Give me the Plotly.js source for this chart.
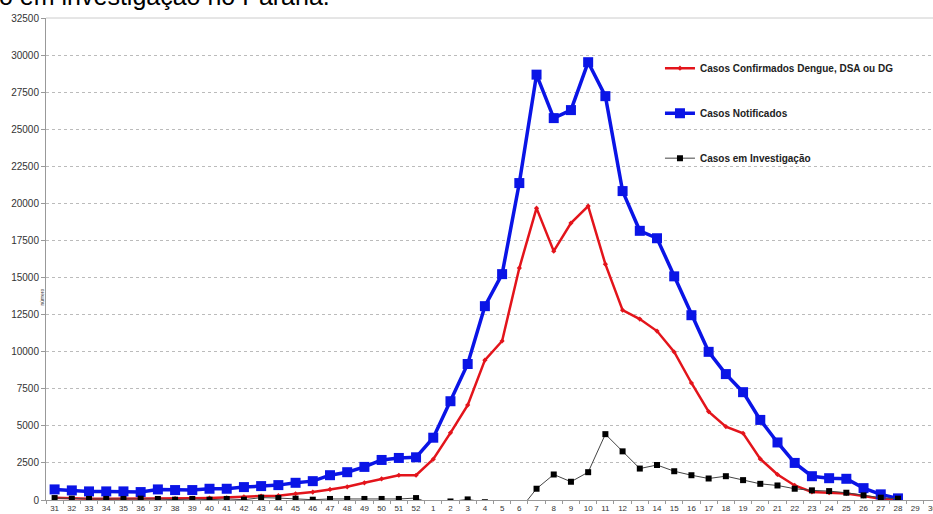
<!DOCTYPE html>
<html><head><meta charset="utf-8">
<script src="https://cdn.plot.ly/plotly-3.0.1.min.js"></script>
<style>html,body{margin:0;padding:0;overflow:hidden;background:#fff;width:933px;height:514px}#c{width:945px;height:514px}</style>
</head><body><div id="c"></div>
<script>
const weeks = ["31","32","33","34","35","36","37","38","39","40","41","42","43","44","45","46","47","48","49","50","51","52",
"1","2","3","4","5","6","7","8","9","10","11","12","13","14","15","16","17","18","19","20","21","22","23","24","25","26","27","28","29","30"];
const confirmados = [150,110,90,90,90,70,90,90,110,130,150,220,270,290,420,535,714,890,1160,1430,1670,1670,
2750,4530,6400,9430,10720,15640,19680,16780,18670,19820,15900,12800,12200,11390,9980,7890,5960,4950,4500,2770,1720,980,540,490,445,270,90,20,null,null];
const notificados = [714,647,580,580,580,535,714,670,670,758,758,870,937,1004,1160,1271,1673,1875,2232,2700,2835,2880,
4200,6660,9170,13070,15230,21370,28680,25750,26290,29520,27230,20830,18150,17650,15080,12460,9990,8490,7270,5400,3880,2500,1605,1470,1430,800,380,110,null,null];
const investigacao = [130,90,70,70,70,90,70,20,70,20,70,20,160,130,90,20,70,70,70,70,70,130,
-300,-100,40,-150,-400,-700,760,1720,1230,1875,4440,3280,2120,2360,1940,1670,1450,1605,1340,1090,980,760,650,600,490,310,156,90,null,null];

const traces = [
 {x: weeks, y: confirmados, name: "Casos Confirmados Dengue, DSA ou DG", type: "scatter", mode: "lines+markers",
  line: {color: "#e3141b", width: 2.5}, marker: {symbol: "diamond", size: 4, color: "#e3141b"}, legendgroup: "a"},
 {x: weeks, y: notificados, name: "Casos Notificados", type: "scatter", mode: "lines+markers",
  line: {color: "#0a14e6", width: 3.5}, marker: {symbol: "square", size: 10, color: "#0a14e6"}, legendgroup: "b"},
 {x: weeks, y: investigacao, name: "Casos em Investigação", type: "scatter", mode: "lines+markers",
  line: {color: "#444", width: 1}, marker: {symbol: "square", size: 6, color: "#000"}, legendgroup: "c"}
];

const layout = {
 width: 945, height: 514,
 margin: {l: 46, r: 4, t: 18, b: 14},
 paper_bgcolor: "#fff", plot_bgcolor: "#fff",
 font: {family: "Liberation Sans, Arial, sans-serif", size: 9, color: "#333"},
 showlegend: true,
 legend: {x: 0.686, y: 0.926, xanchor: "left", yanchor: "top", traceorder: "grouped", tracegroupgap: 26,
   bgcolor: "rgba(0,0,0,0)", font: {size: 10, color: "#222", weight: "bold"}, itemwidth: 30},
 xaxis: {type: "category", range: [-0.5, 51.5], showgrid: false, showline: true, linecolor: "#999", linewidth: 1,
   ticks: "outside", tickson: "boundaries", ticklen: 3, tickcolor: "#999", tickfont: {size: 8, color: "#333"},
   tickangle: 0, fixedrange: true, zeroline: false},
 yaxis: {range: [0, 32500], dtick: 2500, tick0: 0, tickformat: "d", showgrid: true, gridcolor: "#bbb", griddash: "dot", gridwidth: 1,
   showline: true, linecolor: "#999", linewidth: 1, ticks: "outside", ticklen: 4, tickcolor: "#999",
   tickfont: {size: 10, color: "#333"}, zeroline: false, mirror: false},
 annotations: [
  {text: "o em investigação no Paraná.", xref: "paper", yref: "paper", x: -0.055, y: 1.012, xanchor: "left", yanchor: "bottom",
   showarrow: false, font: {size: 25, color: "#000", family: "Liberation Sans, Arial, sans-serif"}},
  {text: "número", xref: "paper", yref: "paper", x: -0.01, y: 0.42, textangle: -90, showarrow: false,
   font: {size: 5, color: "#333"}}
 ],
 shapes: [
  {type: "line", xref: "paper", yref: "paper", x0: 0, x1: 1, y0: 1, y1: 1, line: {color: "#ccc", width: 1}}
 ]
};
Plotly.newPlot("c", traces, layout, {displayModeBar: false, staticPlot: true});
</script></body></html>
